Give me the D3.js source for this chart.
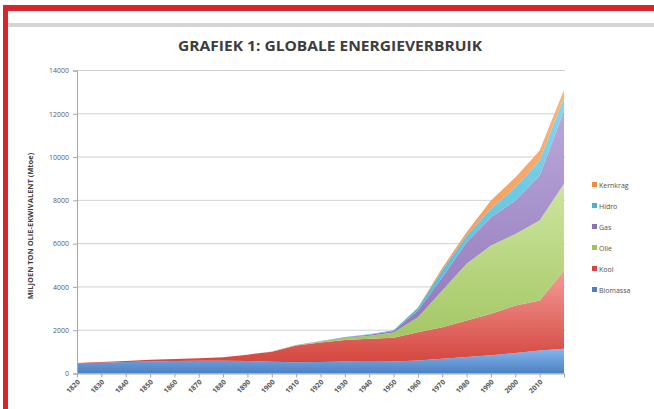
<!DOCTYPE html>
<html>
<head>
<meta charset="utf-8">
<script src="https://cdn.jsdelivr.net/npm/d3@7"></script>
<style>
  body { margin: 0; background: #ffffff; }
  svg { display: block; }
</style>
</head>
<body>
<script>
// data (Mtoe)
var years = [1820, 1830, 1840, 1850, 1860, 1870, 1880, 1890, 1900, 1910, 1920, 1930, 1940, 1950, 1960, 1970, 1980, 1990, 2000, 2010, 2014];
var tickLabels = ["1820", "1830", "1840", "1850", "1860", "1870", "1880", "1890", "1900", "1910", "1920", "1930", "1940", "1950", "1960", "1970", "1980", "1990", "2000", "2010"];
var yTicks = [0, 2000, 4000, 6000, 8000, 10000, 12000, 14000];

var biomassa = [470, 500, 530, 560, 580, 590, 590, 580, 540, 520, 530, 550, 540, 550, 600, 680, 760, 840, 950, 1060, 1140];
var kool     = [20, 30, 50, 70, 90, 110, 160, 290, 470, 770, 900, 1000, 1060, 1100, 1310, 1460, 1690, 1920, 2190, 2310, 3620];
var olie     = [0, 0, 0, 0, 0, 0, 0, 0, 10, 20, 50, 100, 150, 250, 690, 1695, 2620, 3155, 3310, 3700, 4005];
var gas      = [0, 0, 0, 0, 0, 0, 0, 0, 0, 5, 10, 20, 40, 60, 310, 615, 1000, 1310, 1540, 2080, 3390];
var hidro    = [0, 0, 0, 0, 0, 0, 0, 0, 0, 5, 10, 15, 25, 40, 125, 330, 310, 385, 610, 690, 615];
var kernkrag = [0, 0, 0, 0, 0, 0, 0, 0, 0, 0, 0, 0, 0, 0, 10, 100, 150, 385, 460, 460, 335];

var seriesNames = ["Biomassa", "Kool", "Olie", "Gas", "Hidro", "Kernkrag"];
var seriesValues = [biomassa, kool, olie, gas, hidro, kernkrag];
var topColors = ["#86b6ec", "#f49c96", "#cde59f", "#baa8da", "#86d7ec", "#fbb47c"];
var botColors = ["#4b80c2", "#d4463f", "#9dc35b", "#8b72b6", "#49b2d2", "#f28b3b"];

var rows = years.map(function (yr, i) {
    var r = { year: yr };
    seriesNames.forEach(function (n, k) { r[n] = seriesValues[k][i]; });
    return r;
});

var svg = d3.select("body").append("svg")
    .attr("width", 654)
    .attr("height", 409);

// frame of the page: red border and grey rule
svg.append("rect").attr("x", 3).attr("y", 5).attr("width", 651).attr("height", 6).attr("fill", "#d9242c");
svg.append("rect").attr("x", 3).attr("y", 5).attr("width", 5).attr("height", 404).attr("fill", "#d9242c");
svg.append("rect").attr("x", 8).attr("y", 23).attr("width", 646).attr("height", 4).attr("fill", "#d4d4d4");

var defs = svg.append("defs");
seriesNames.forEach(function (n, k) {
    var g = defs.append("linearGradient")
        .attr("id", "grad" + k)
        .attr("x1", 0).attr("y1", 0).attr("x2", 0).attr("y2", 1);
    g.append("stop").attr("offset", "0%").attr("stop-color", topColors[k]);
    g.append("stop").attr("offset", "100%").attr("stop-color", botColors[k]);
});

// plot box
var plotLeft = 77, plotRight = 564, plotTop = 70.5, plotBottom = 373.5;

var x = d3.scalePoint()
    .domain(years)
    .range([plotLeft, plotRight]);

var y = d3.scaleLinear()
    .domain([0, 14000])
    .range([plotBottom, plotTop]);

// title
svg.append("text")
    .attr("x", 330)
    .attr("y", 51)
    .attr("text-anchor", "middle")
    .attr("textLength", 304)
    .attr("lengthAdjust", "spacingAndGlyphs")
    .style("font-family", "'Open Sans', sans-serif")
    .style("font-weight", "bold")
    .style("font-size", "15px")
    .attr("fill", "#3d3d3d")
    .text("GRAFIEK 1: GLOBALE ENERGIEVERBRUIK");

// gridlines
svg.append("g")
    .selectAll("line")
    .data(yTicks.slice(1))
    .join("line")
    .attr("x1", plotLeft)
    .attr("x2", plotRight + 1)
    .attr("y1", function (d) { return y(d); })
    .attr("y2", function (d) { return y(d); })
    .attr("stroke", "#cfcfd6")
    .attr("stroke-width", 1);

// stacked areas
var stack = d3.stack().keys(seriesNames);
var layers = stack(rows);

var area = d3.area()
    .x(function (d) { return x(d.data.year); })
    .y0(function (d) { return y(d[0]); })
    .y1(function (d) { return y(d[1]); });

svg.append("g")
    .selectAll("path")
    .data(layers)
    .join("path")
    .attr("d", area)
    .attr("fill", function (d, i) { return "url(#grad" + i + ")"; });

// y axis
var yAxis = svg.append("g")
    .attr("transform", "translate(" + plotLeft + ",0)")
    .call(d3.axisLeft(y).tickValues(yTicks).tickSize(4).tickPadding(4).tickFormat(d3.format("d")));
yAxis.select(".domain").attr("stroke", "#a6a6a6");
yAxis.selectAll(".tick line").attr("stroke", "#a6a6a6");
yAxis.selectAll(".tick text")
    .style("font-family", "'Open Sans', sans-serif")
    .style("font-size", "7px")
    .attr("fill", "#595959");

// x axis
var xAxis = svg.append("g")
    .attr("transform", "translate(0," + plotBottom + ")")
    .call(d3.axisBottom(x).tickSize(4).tickSizeOuter(0)
        .tickFormat(function (d) { return tickLabels.indexOf(String(d)) >= 0 ? String(d) : ""; }));
xAxis.select(".domain").attr("stroke", "#a6a6a6");
xAxis.selectAll(".tick line").attr("stroke", "#a6a6a6");
xAxis.selectAll(".tick text")
    .attr("text-anchor", "end")
    .attr("dy", null)
    .attr("y", 0)
    .attr("transform", "translate(3,9) rotate(-45)")
    .style("font-family", "'Open Sans', sans-serif")
    .style("font-weight", "bold")
    .style("font-size", "7px")
    .attr("fill", "#595959");

// y axis title
svg.append("text")
    .attr("transform", "translate(33,226) rotate(-90)")
    .attr("text-anchor", "middle")
    .style("font-family", "'Open Sans', sans-serif")
    .style("font-weight", "bold")
    .style("font-size", "7.5px")
    .attr("fill", "#404040")
    .text("MILJOEN TON OLIE-EKWIVALENT (Mtoe)");

// legend, top entry is the last series
var legend = svg.append("g")
    .selectAll("g")
    .data(seriesNames.slice().reverse())
    .join("g")
    .attr("transform", function (d, i) { return "translate(592," + (185 + i * 21) + ")"; });
legend.append("rect")
    .attr("x", 0)
    .attr("y", -3)
    .attr("width", 5)
    .attr("height", 5)
    .attr("fill", function (d) { return botColors[seriesNames.indexOf(d)]; });
legend.append("text")
    .attr("x", 7)
    .attr("y", 2.5)
    .style("font-family", "'Open Sans', sans-serif")
    .style("font-size", "7px")
    .attr("fill", "#505050")
    .text(function (d) { return d; });
</script>
</body>
</html>
